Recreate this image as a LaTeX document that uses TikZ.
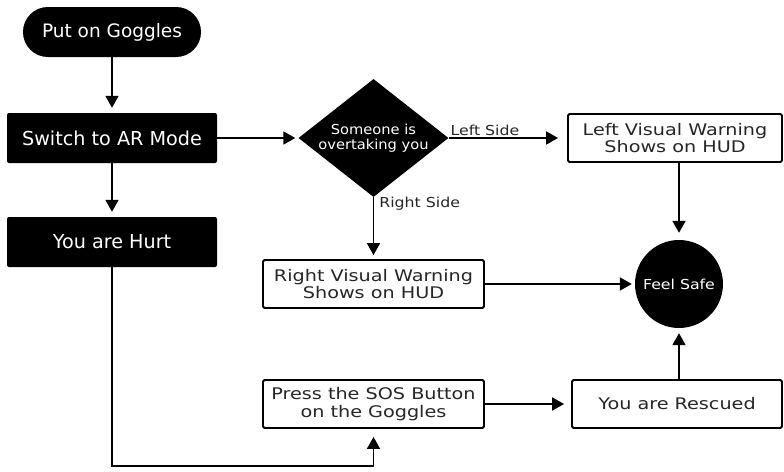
\documentclass[tikz,border=0pt]{standalone}
\usepackage{fontspec}
\setmainfont{DejaVu Sans}
\newfontfamily\wfont{DejaVu Sans}[FakeStretch=1.2]
\newfontfamily\lfont{DejaVu Sans}[FakeStretch=1.15]
\newfontfamily\dfont{DejaVu Sans}[FakeStretch=1.07]
\usetikzlibrary{shapes.geometric,arrows.meta}
\begin{document}
\begin{tikzpicture}[x=1pt,y=-1pt,
  blk/.style={draw=none,fill=black,text=white,minimum width=210pt,minimum height=50pt,
    rounded corners=2pt,font=\fontsize{19.2}{22}\selectfont,inner sep=0pt},
  wbox/.style={draw=black,line width=1.8pt,fill=white,text=black!85,minimum height=48pt,
    rounded corners=1.5pt,align=center,font=\wfont\fontsize{16}{17.5}\selectfont,inner sep=0pt},
  arr/.style={line width=1.8pt,-{Triangle[width=13pt,length=12pt]},shorten >=5pt},
  lbl/.style={font=\lfont\fontsize{13.7}{15}\selectfont,text=black!85,inner sep=1pt}]
\useasboundingbox (0,0) rectangle (784,471);

\node[blk,rounded corners=24.9pt,minimum width=178pt,font=\fontsize{18.5}{20}\selectfont] (start) at (112,32) {Put on Goggles};
\node[blk] (switch) at (112,138) {Switch to AR Mode};
\node[blk] (hurt) at (112,242) {You are Hurt};

\node[diamond,fill=black,minimum width=150pt,minimum height=118pt,inner sep=0pt] (dec) at (373.5,138) {};
\node[text=white,align=center,font=\dfont\fontsize{13.7}{14.5}\selectfont,inner sep=0pt] (dect) at (dec) {Someone is\\overtaking you};

\node[wbox,minimum width=214pt] (leftw) at (675,138) {Left Visual Warning\\Shows on HUD};
\node[wbox,minimum width=221pt] (rightw) at (373.5,284) {Right Visual Warning\\Shows on HUD};
\node[wbox,minimum width=221pt] (sos) at (373.5,404) {Press the SOS Button\\on the Goggles};
\node[wbox,minimum width=210pt] (rescued) at (677,404) {You are Rescued};

\node[circle,fill=black,text=white,minimum size=88pt,inner sep=0pt,
  font=\lfont\fontsize{13.7}{15}\selectfont] (safe) at (679,284) {Feel Safe};

\coordinate (bend) at (112,466);

\draw[arr] (start) -- (switch);
\draw[arr] (switch) -- (hurt);
\draw[arr,shorten >=3pt] (switch.east) -- (dec.west);
\draw[arr,shorten >=9pt] (dec.east) -- node[lbl,pos=0,anchor=south west] (ls) {Left Side} (leftw.west);
\draw[arr,shorten >=4pt] (dec.south) -- node[lbl,pos=0.1,anchor=west,xshift=4pt] (rs) {Right Side} (rightw.north);
\draw[arr,shorten >=7pt] (safe |- leftw.south) -- (safe.north);
\draw[arr,shorten >=3pt] (rightw.east) -- (safe.west);
\draw[arr,shorten >=5pt] (safe |- rescued.north) -- (safe.south);
\draw[arr,shorten >=8pt] (hurt.south) -- (bend) -| (sos.south);
\draw[arr,shorten >=7pt] (sos.east) -- (rescued.west);
\end{tikzpicture}
\end{document}
